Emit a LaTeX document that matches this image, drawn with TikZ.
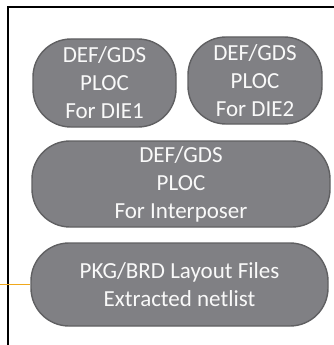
\documentclass[tikz,border=0pt]{standalone}
\usepackage{fontspec}
\setmainfont{Carlito}
\definecolor{boxfill}{RGB}{128,128,132}
\definecolor{boxline}{RGB}{96,96,98}
\definecolor{feedline}{RGB}{240,168,28}
\begin{document}
\begin{tikzpicture}[x=1pt,y=-1pt,
  filebox/.style={draw=boxline, fill=boxfill, line width=1.4pt,
    rounded corners=38pt, align=center, text=white!95!gray,
    inner sep=0pt, font=\fontsize{23}{28}\selectfont}]
\useasboundingbox (0,0) rectangle (334,345);
% frame, open at the right and bottom
\draw[line width=1.2pt] (8,345) -- (8,7) -- (334,7);

% layout inputs
\node[filebox, minimum width=143pt, minimum height=88pt] (die1) at (104.5,83) {DEF/GDS\\PLOC\\For DIE1};
\node[filebox, minimum width=134pt, minimum height=87pt] (die2) at (255,80.5) {DEF/GDS\\PLOC\\For DIE2};
\node[filebox, minimum width=298pt, minimum height=86pt] (ipos) at (181,184) {DEF/GDS\\PLOC\\For Interposer};
\node[filebox, minimum width=297pt, minimum height=83pt] (pkg) at (179.5,284.5) {PKG/BRD Layout Files\\Extracted netlist};

\coordinate (feed) at (0,284.5);
\draw[feedline, line width=1.4pt] (feed) -- (pkg.west);
\end{tikzpicture}
\end{document}
